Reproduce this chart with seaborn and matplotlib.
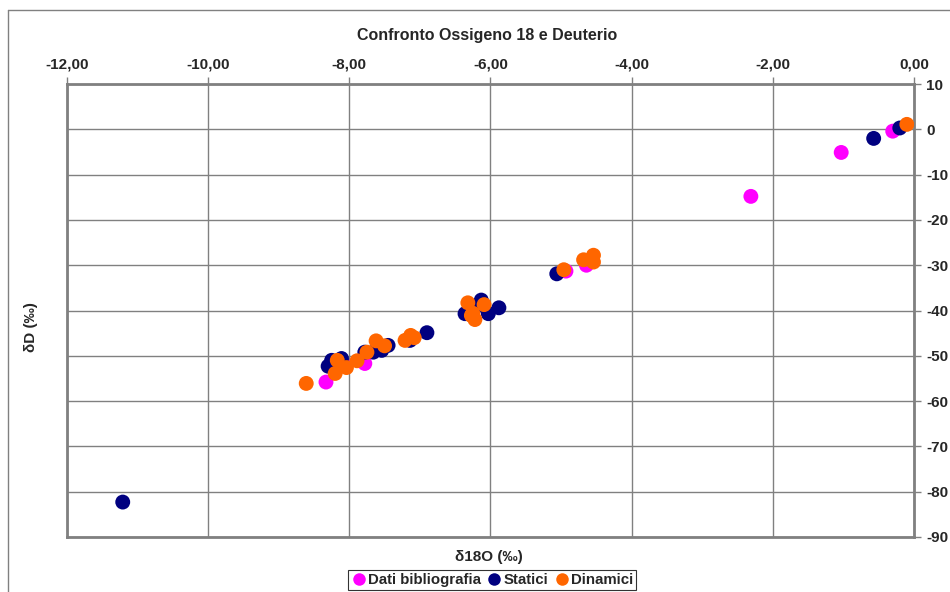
import pandas as pd
import matplotlib.pyplot as plt
import seaborn as sns
from matplotlib.ticker import FuncFormatter, MultipleLocator
from matplotlib.lines import Line2D

# Data (delta 18O vs delta D)
bibl_o18 = [-0.30, -1.03, -2.31, -4.64, -4.93, -8.33, -7.78, -8.09]
bibl_d = [-0.4, -5.1, -14.8, -30.0, -31.3, -55.8, -51.7, -51.7]

stat_o18 = [-11.21, -0.57, -0.20, -5.06, -6.90, -6.36, -6.13, -6.03, -5.88, -6.24,
            -7.14, -7.45, -7.54, -7.66, -7.78, -8.11, -8.25, -8.30]
stat_d = [-82.3, -2.0, 0.3, -31.9, -44.9, -40.7, -37.7, -40.7, -39.4, -39.9,
          -46.6, -47.7, -48.8, -49.2, -49.2, -50.6, -51.0, -52.3]

din_o18 = [-0.10, -4.96, -4.68, -4.54, -4.54, -6.32, -6.09, -6.27, -6.22, -6.25,
           -8.61, -8.20, -8.04, -8.17, -7.89, -7.75, -7.62, -7.50, -7.21, -7.13, -7.08]
din_d = [1.1, -31.0, -28.8, -27.8, -29.3, -38.3, -38.7, -41.1, -42.0, -40.6,
         -56.1, -53.9, -52.6, -51.0, -51.1, -49.2, -46.7, -47.8, -46.6, -45.5, -46.0]

series = ["Dati bibliografia", "Statici", "Dinamici"]
colors = ["#FF00FF", "#000080", "#FF6600"]

df = pd.concat([
    pd.DataFrame({"o18": bibl_o18, "d": bibl_d, "serie": series[0]}),
    pd.DataFrame({"o18": stat_o18, "d": stat_d, "serie": series[1]}),
    pd.DataFrame({"o18": din_o18, "d": din_d, "serie": series[2]}),
], ignore_index=True)

sns.set_style("white")
plt.rcParams["font.family"] = ["Liberation Sans", "DejaVu Sans"]
plt.rcParams["font.weight"] = "bold"

fig = plt.figure(figsize=(9.5, 5.92), dpi=100)
ax = fig.add_axes([0.0705, 0.093, 0.8915, 0.765])

sns.scatterplot(data=df, x="o18", y="d", hue="serie", hue_order=series,
                palette=colors, s=115, linewidth=0, alpha=1, ax=ax, legend=False, zorder=3)

ax.set_xlim(-12, 0)
ax.set_ylim(-90, 10)
ax.xaxis.set_major_locator(MultipleLocator(2))
ax.yaxis.set_major_locator(MultipleLocator(10))
ax.xaxis.set_major_formatter(FuncFormatter(lambda v, p: f"{v:.2f}".replace(".", ",").replace("-0,00", "0,00")))
ax.yaxis.set_major_formatter(FuncFormatter(lambda v, p: f"{v:.0f}"))

ax.xaxis.tick_top()
ax.yaxis.tick_right()
ax.tick_params(axis="both", direction="out", length=5, width=1, color="#808080",
               labelsize=11, pad=4)
for lab in ax.get_xticklabels() + ax.get_yticklabels():
    lab.set_fontweight("bold")

ax.grid(True, color="#808080", linewidth=1)
ax.set_axisbelow(True)
for sp in ax.spines.values():
    sp.set_color("#808080")
    sp.set_linewidth(2)

ax.set_xlabel("")
ax.set_ylabel("")
fig.text(0.515, 0.059, "δ18O (‰)", ha="center", va="center", fontsize=11, fontweight="bold")
fig.text(0.033, 0.447, "δD (‰)", ha="center", va="center", rotation=90, fontsize=11, fontweight="bold")
fig.text(0.513, 0.94, "Confronto Ossigeno 18 e Deuterio", ha="center", va="center",
         fontsize=11.5, fontweight="bold")

# outer chart border
fig.add_artist(Line2D([0.0084, 0.0084], [0, 0.983], color="#808080", linewidth=1, transform=fig.transFigure))
fig.add_artist(Line2D([0.0084, 1], [0.983, 0.983], color="#808080", linewidth=1, transform=fig.transFigure))

handles = [Line2D([], [], marker="o", linestyle="", markersize=9, markerfacecolor=c,
                  markeredgewidth=0) for c in colors]
leg = fig.legend(handles, series, loc="center", bbox_to_anchor=(0.518, 0.02), ncol=3,
                 frameon=True, fancybox=False, fontsize=10.8, handletextpad=0.1,
                 columnspacing=0.4, borderpad=0.2, handlelength=1.0, borderaxespad=0)
leg.get_frame().set_edgecolor("#000000")
leg.get_frame().set_linewidth(0.8)
for t in leg.get_texts():
    t.set_fontweight("bold")

fig.savefig("out.png", dpi=100)
